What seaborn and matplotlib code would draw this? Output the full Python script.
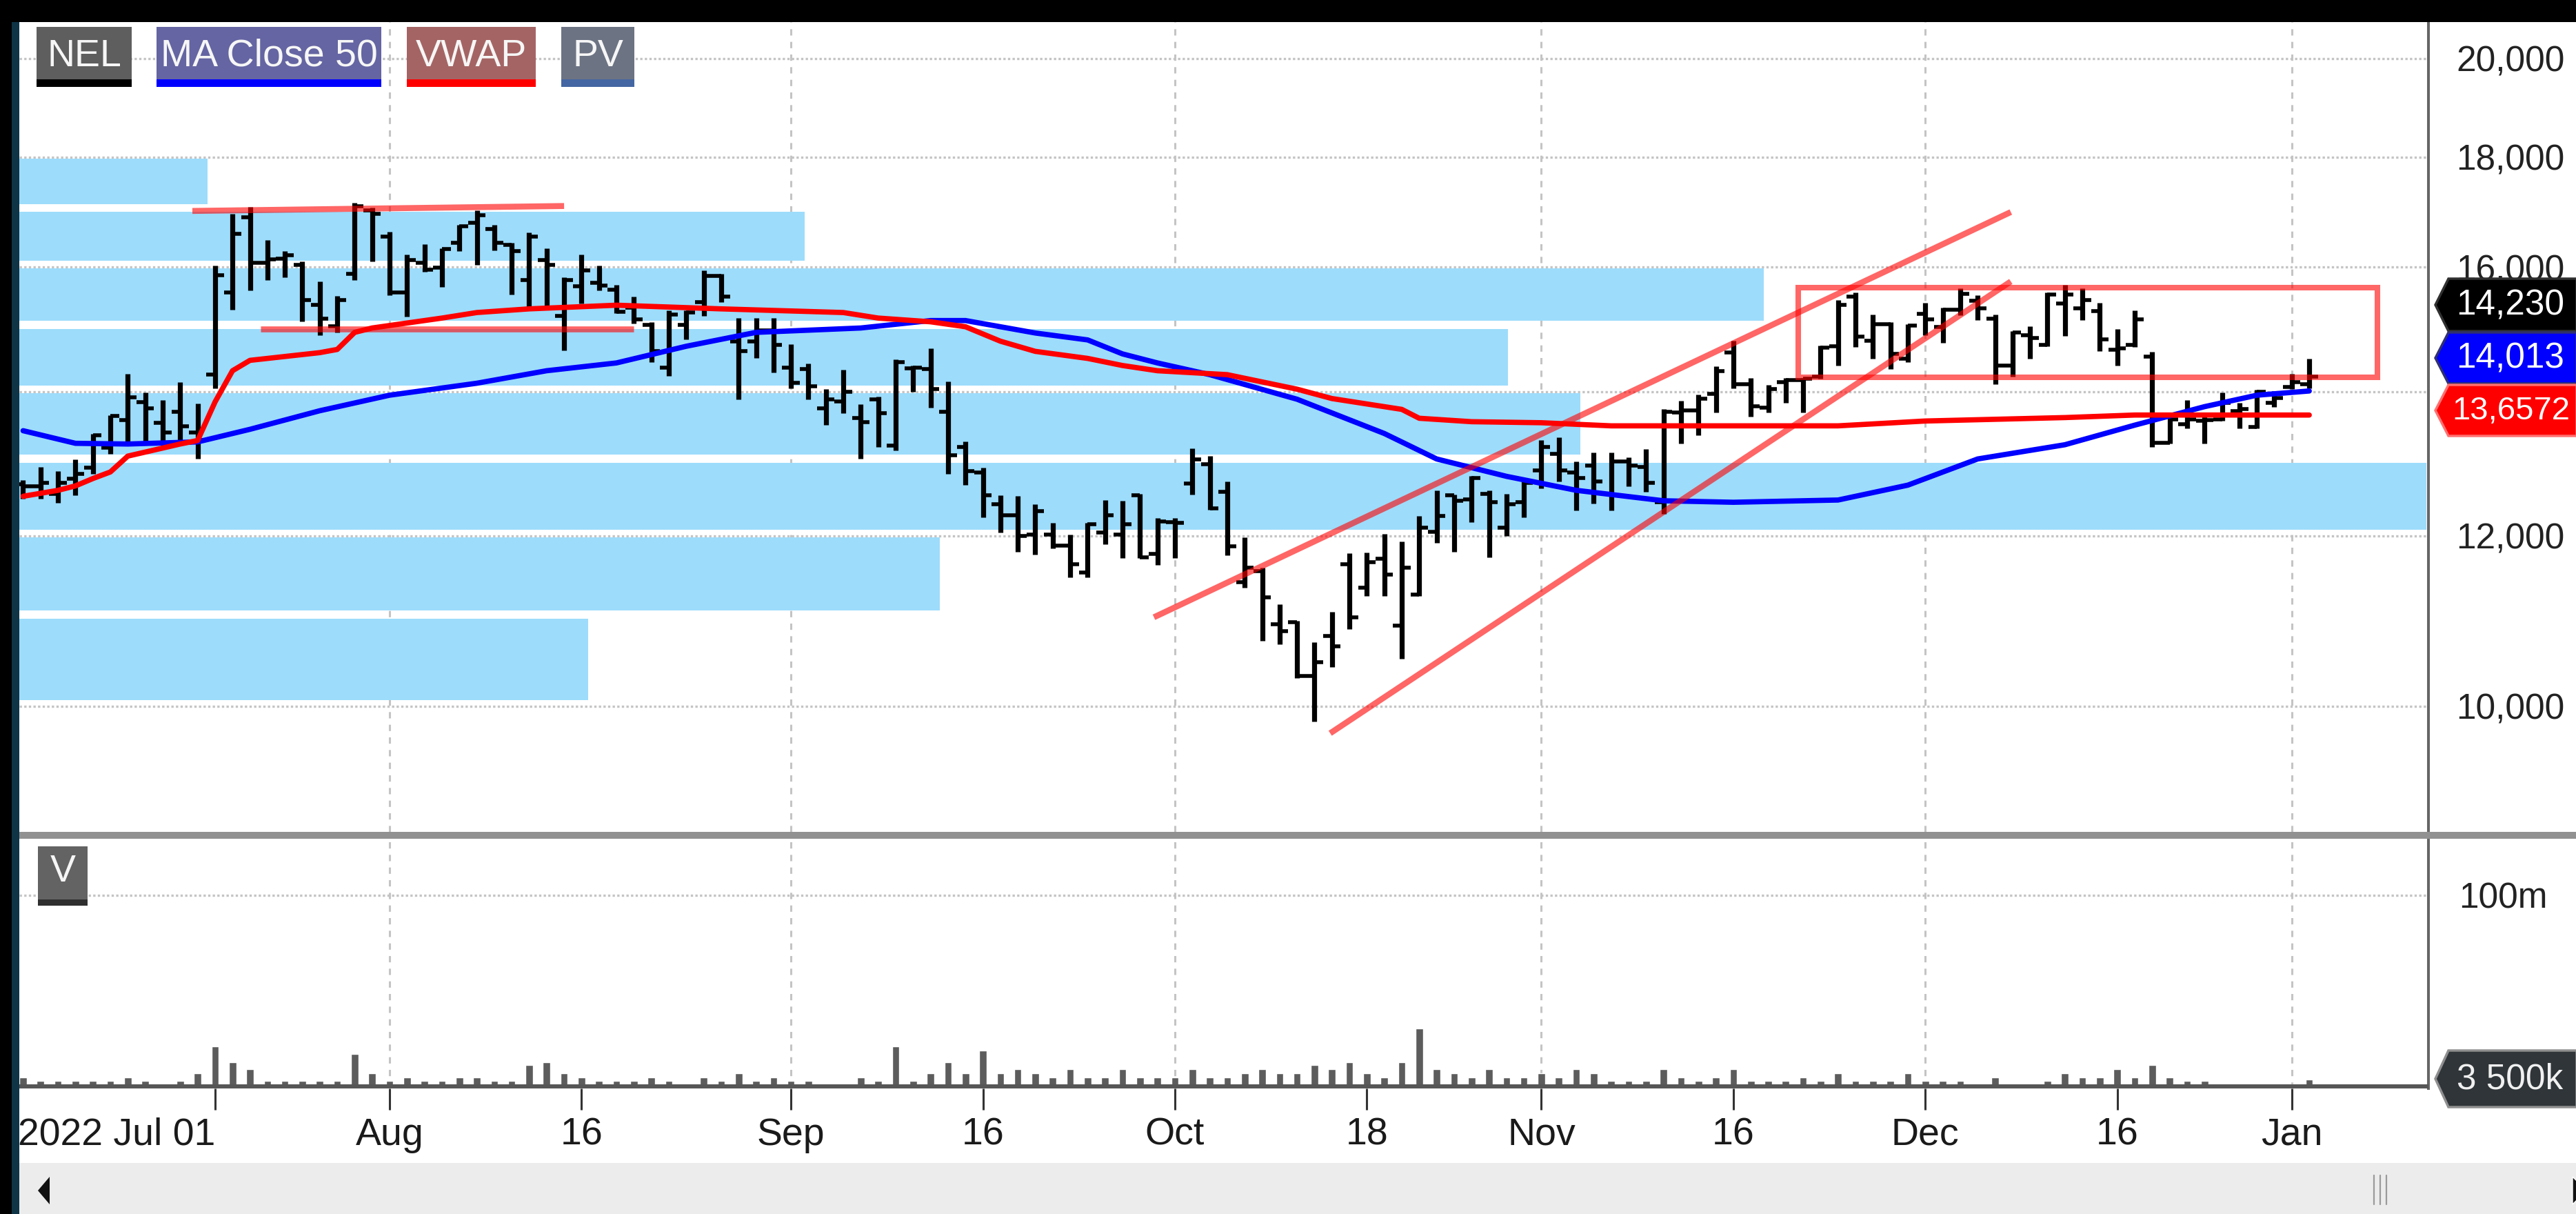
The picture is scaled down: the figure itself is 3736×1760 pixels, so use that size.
import numpy as np
import pandas as pd
import matplotlib
matplotlib.use("Agg")
import matplotlib.pyplot as plt
import seaborn as sns
from matplotlib.patches import Rectangle, Polygon
from matplotlib.ticker import FixedLocator, FuncFormatter, NullLocator

# ---------------------------------------------------------------- data
bar_idx = list(range(132))
open_ = [12680, 12650, 12550, 12760, 12910, 13190, 13580, 13850, 13540, 13700,
         13400, 14260, 15570, 16880, 16070, 16150, 16040, 15370, 15020, 15880,
         17000, 16530, 15570, 16070, 15990, 16420, 16770, 16660, 16390, 15780,
         16120, 15190, 15680, 15730, 15620, 15320, 15040, 14370, 15040, 15410,
         15850, 14780, 14780, 14950, 14370, 14350, 13760, 13860, 13610, 13890,
         13220, 14360, 14350, 13700, 13200, 12840, 12410, 12270, 12020, 12020,
         11880, 11540, 12040, 12020, 12530, 11770, 12180, 12690, 12960, 12580,
         11420, 11560, 10920, 10940, 10330, 10780, 11640, 11350, 11710, 10900,
         11270, 12050, 12530, 12480, 12550, 12110, 12440, 12870, 13100, 12840,
         12940, 12550, 13000, 12920, 12440, 13690, 13720, 13970, 14600, 14120,
         13770, 14150, 14180, 14230, 14700, 15500, 14790, 15050, 14510, 15220,
         15010, 15290, 15430, 15140, 14400, 14870, 14720, 15390, 15310, 15260,
         14650, 14720, 14540, 13260, 13520, 13570, 13590, 13710, 13480, 13840,
         14070, 14120]
high_ = [12740, 12920, 12860, 13020, 13380, 13650, 14270, 13990, 13880, 14150,
         13830, 16030, 16940, 17060, 16470, 16270, 16100, 15760, 15510, 17140,
         17050, 16610, 16220, 16400, 16330, 16740, 17000, 16740, 16420, 16600,
         16330, 15820, 16220, 16030, 15700, 15500, 15090, 15270, 15270, 15940,
         15890, 15150, 15150, 15150, 14730, 14430, 14040, 14340, 13820, 13930,
         14500, 14400, 14670, 14160, 13280, 12910, 12530, 12520, 12410, 12170,
         12020, 12170, 12470, 12460, 12550, 12230, 12230, 13180, 13070, 12720,
         11980, 11600, 11150, 10960, 10710, 11060, 11780, 11790, 12030, 11930,
         12260, 12600, 12540, 12800, 12600, 12550, 12720, 13300, 13340, 13000,
         13120, 13120, 13050, 13170, 13740, 13870, 13960, 14390, 14790, 14210,
         14100, 14210, 14210, 14710, 15450, 15570, 15210, 15090, 15050, 15400,
         15320, 15640, 15520, 15210, 14940, 15020, 15570, 15700, 15640, 15400,
         14970, 15280, 14610, 13610, 13880, 13670, 13990, 13840, 14030, 14010,
         14270, 14510]
low_ = [12490, 12490, 12430, 12530, 12820, 13100, 13270, 13270, 13270, 13270,
        13030, 14050, 15290, 15600, 15780, 15830, 15100, 14870, 14920, 15780,
        16100, 15520, 15170, 15920, 15660, 16280, 16040, 16290, 15540, 15320,
        15340, 14630, 15390, 15610, 15230, 15060, 14450, 14240, 14810, 15180,
        15410, 13890, 14520, 14290, 14050, 13890, 13510, 13680, 13030, 13200,
        13150, 14000, 13770, 12820, 12670, 12240, 12040, 11800, 11760, 11840,
        11480, 11480, 11890, 11720, 11720, 11630, 11720, 12540, 12340, 11750,
        11350, 10730, 10690, 10310, 9840, 10430, 10860, 11250, 11250, 10520,
        11250, 11910, 11800, 12180, 11730, 12000, 12240, 12630, 12720, 12330,
        12420, 12330, 12650, 12580, 12290, 13250, 13360, 13690, 14050, 13630,
        13690, 13840, 13690, 14200, 14400, 14690, 14510, 14350, 14450, 14870,
        14750, 15200, 15120, 14120, 14230, 14510, 14700, 14860, 15120, 14620,
        14400, 14690, 13200, 13250, 13460, 13250, 13570, 13460, 13460, 13780,
        14040, 14050]
close_ = [12650, 12700, 12700, 12820, 13360, 13640, 13920, 13760, 13400, 13490,
          13300, 15860, 16580, 16070, 16130, 16200, 15450, 15140, 15450, 17080,
          16940, 15570, 16120, 15960, 16310, 16720, 16910, 16420, 16270, 16530,
          16040, 15780, 15940, 15690, 15250, 15130, 14620, 15210, 15240, 15850,
          15500, 14620, 14950, 14720, 14140, 14080, 13890, 14000, 13550, 13680,
          14450, 14370, 14040, 13080, 12860, 12530, 12270, 12000, 12320, 11880,
          11640, 12150, 12270, 12150, 11730, 12190, 12170, 13020, 12360, 11870,
          11600, 11240, 10840, 10330, 10480, 10660, 11000, 11670, 11510, 11600,
          12110, 12260, 12460, 12770, 12440, 12410, 12700, 13200, 12870, 12770,
          12720, 13000, 12940, 12700, 13700, 13720, 13900, 14310, 14120, 13790,
          14040, 14180, 14200, 14680, 15370, 14850, 15050, 14580, 15030, 15130,
          15290, 15550, 15310, 14400, 14920, 14830, 15540, 15540, 15450, 14810,
          14670, 15130, 13260, 13590, 13590, 13580, 13840, 13740, 14000, 13910,
          14150, 14230]
volume_m = [4.6, 2.8, 2.8, 2.8, 2.8, 2.8, 4.6, 2.8, 1.1, 2.8,
            6.7, 20.8, 12.8, 8.9, 2.8, 2.8, 2.8, 2.8, 2.8, 16.9,
            6.7, 2.8, 4.6, 2.8, 2.8, 4.6, 4.6, 2.8, 2.8, 11.0,
            12.8, 6.7, 4.6, 2.8, 2.8, 2.8, 4.6, 2.8, 1.1, 4.6,
            2.8, 6.7, 2.8, 4.6, 2.8, 2.8, 1.1, 1.1, 4.6, 2.8,
            20.8, 2.8, 6.7, 12.8, 6.7, 18.7, 6.7, 8.9, 6.7, 4.6,
            8.9, 4.6, 4.6, 8.9, 4.6, 4.6, 4.6, 8.9, 4.6, 4.6,
            6.7, 8.9, 6.7, 6.7, 11.0, 8.9, 12.8, 6.7, 4.6, 12.8,
            30.3, 8.9, 6.7, 4.6, 8.9, 4.6, 4.6, 6.7, 4.6, 8.9,
            6.7, 2.8, 2.8, 2.8, 8.9, 4.6, 2.8, 4.6, 8.9, 2.8,
            2.8, 2.8, 4.6, 2.8, 6.7, 2.8, 2.8, 2.8, 6.7, 2.8,
            2.8, 2.8, 1.1, 4.6, 1.1, 1.1, 2.8, 6.7, 4.6, 4.6,
            8.9, 4.6, 11.0, 4.6, 2.8, 2.8, 1.1, 1.1, 1.1, 1.1,
            1.1, 3.5]
ma_idx = [0, 3, 6, 10, 13, 17, 21, 26, 30, 34, 38, 42, 48, 52, 54, 56, 58, 61,
          63, 65, 68, 73, 78, 81, 85, 89, 94, 98, 104, 108, 112, 117, 121, 125,
          128, 131]
ma_val = [13430, 13250, 13240, 13270, 13450, 13720, 13950, 14130, 14320, 14440,
          14700, 14920, 14990, 15110, 15110, 15010, 14910, 14800, 14580, 14440,
          14260, 13890, 13390, 13030, 12790, 12600, 12460, 12440, 12470, 12670,
          13030, 13230, 13510, 13780, 13950, 14013]
vwap_idx = [0, 2, 3, 4, 5, 6, 9, 10, 11, 12, 13, 17, 18, 19, 20, 22, 24, 26,
            29, 34, 40, 47, 49, 52, 54, 56, 58, 61, 63, 65, 69, 73, 75, 79, 80,
            83, 87, 91, 104, 109, 117, 121, 131]
vwap_val = [12520, 12600, 12660, 12760, 12850, 13070, 13240, 13290, 13850, 14320,
            14480, 14600, 14650, 14920, 14990, 15070, 15150, 15240, 15300, 15360,
            15300, 15240, 15150, 15090, 15010, 14780, 14620, 14510, 14400, 14320,
            14260, 14040, 13900, 13740, 13610, 13560, 13545, 13500, 13500, 13570,
            13620, 13657, 13657]
pv_low = [10000, 11000, 12000, 13000, 14000, 15000, 16000, 17000]
pv_high = [11000, 12000, 13000, 14000, 15000, 16000, 17000, 18000]
pv_share = [23.6, 38.2, 99.9, 64.8, 61.8, 72.4, 32.6, 7.8]
trend_x = [[9.7, 31.0], [13.6, 35.0], [64.8, 113.9], [74.9, 113.9]]
trend_y = [[16990, 17080], [14970, 14970], [11000, 16970], [9716, 15755]]
range_box_x = [101.7, 134.9]
range_box_y = [14220, 15650]
price_ticks = [10000, 12000, 14000, 16000, 18000, 20000]
hidden_tick = 14000          # covered by the last-value tags in the reference
month_idx = [21, 44, 66, 87, 109, 130]
tick_idx = [11, 21, 32, 44, 55, 66, 77, 87, 98, 109, 120, 130]
tick_labels = ['2022 Jul 01', 'Aug', '16', 'Sep', '16', 'Oct', '18', 'Nov',
               '16', 'Dec', '16', 'Jan']
last_close, last_ma, last_vwap, last_vol = '14,230', '14,013', '13,6572', '3 500k'

# ---------------------------------------------------------------- style
sns.set_theme(style='white')
plt.rcParams['font.family'] = ['Liberation Sans', 'DejaVu Sans']
FS = 40
TFS = 37
W, H = 3737, 1760
fig = plt.figure(figsize=(W / 100, H / 100), dpi=100, facecolor='white')

def px2fig(x0, y0, x1, y1):
    return [x0 / W, 1 - y1 / H, (x1 - x0) / W, (y1 - y0) / H]

XL = ((28 - 33.5) / 25.31, (3522 - 33.5) / 25.31)
YL = (8743, 20795)
GRID = '#c4c4c4'

# base layer: grid + right price scale
axb = fig.add_axes(px2fig(28, 32, 3522, 1206))
axb.set_facecolor('white')
axb.set_xlim(*XL)
axb.set_yscale('log')
for v in price_ticks:
    axb.axhline(v, color=GRID, lw=2.4, ls=(0, (1, 1)), zorder=0)
for m in month_idx:
    axb.axvline(m, color=GRID, lw=2.2, ls=(0, (3, 3)), zorder=0)
for s in ['top', 'left', 'bottom']:
    axb.spines[s].set_visible(False)
axb.spines['right'].set_color('#666666')
axb.spines['right'].set_linewidth(2.9)

# volume-profile layer (shares the price scale)
axp = axb.twiny()
axp.set_zorder(axb.get_zorder() + 1)
axp.patch.set_visible(False)
bottoms = [lo * 1.007 for lo in pv_low]
heights = [hi * 0.9985 - lo * 1.007 for lo, hi in zip(pv_low, pv_high)]
axp.barh(bottoms, pv_share, height=heights, left=0, align='edge',
         color='#9ddcfb', linewidth=0)
axp.set_xlim(0, 100)
axp.set_xticks([])
for s in axp.spines.values():
    s.set_visible(False)

# price scale formatting (after twin creation)
axb.set_ylim(*YL)
axb.set_xticks([])
axb.yaxis.set_major_locator(FixedLocator(price_ticks))
axb.yaxis.set_minor_locator(NullLocator())
axb.yaxis.set_major_formatter(FuncFormatter(
    lambda v, p: '' if abs(v - hidden_tick) < 1 else f'{v:,.0f}'))
axb.yaxis.tick_right()
axb.tick_params(axis='y', which='both', left=False, labelleft=False, length=0,
                pad=29, labelsize=TFS, labelcolor='#222222')
axp.tick_params(axis='y', which='both', left=False, labelleft=False)

# price layer
ax = fig.add_axes(px2fig(28, 32, 3522, 1206))
ax.set_zorder(axp.get_zorder() + 1)
ax.patch.set_visible(False)
ax.set_yscale('log')
ax.vlines(bar_idx, low_, high_, color='black', lw=5.2, zorder=3)
ax.hlines(open_, np.array(bar_idx) - 0.5, np.array(bar_idx), color='black', lw=4.0, zorder=3)
ax.hlines(close_, np.array(bar_idx), np.array(bar_idx) + 0.5, color='black', lw=4.0, zorder=3)
sns.lineplot(x=ma_idx, y=ma_val, ax=ax, color='#0000ff', linewidth=5.5, zorder=4)
sns.lineplot(x=vwap_idx, y=vwap_val, ax=ax, color='#ff0000', linewidth=5.5, zorder=4)
for tx, ty in zip(trend_x, trend_y):
    ax.plot(tx, ty, color='#ff0000', alpha=0.6, lw=6.2, solid_capstyle='butt', zorder=5)
ax.add_patch(Rectangle((range_box_x[0], range_box_y[0]), range_box_x[1] - range_box_x[0],
                       range_box_y[1] - range_box_y[0], fill=False, ec='#ff0000',
                       alpha=0.6, lw=5.8, zorder=5))
ax.set_xlim(*XL)
ax.set_ylim(*YL)
ax.set_xlabel('')
ax.set_ylabel('')
ax.set_xticks([])
ax.yaxis.set_major_locator(NullLocator())
ax.yaxis.set_minor_locator(NullLocator())
ax.tick_params(left=False, right=False, labelleft=False, labelright=False)
for s in ax.spines.values():
    s.set_visible(False)

# volume panel
axv = fig.add_axes(px2fig(28, 1216, 3522, 1578))
axv.set_facecolor('white')
for m in month_idx:
    axv.axvline(m, color=GRID, lw=2.2, ls=(0, (3, 3)), zorder=0)
axv.axhline(100, color=GRID, lw=2.4, ls=(0, (1, 1)), zorder=0)
vol_df = pd.DataFrame({'idx': bar_idx, 'vol': volume_m})
sns.barplot(data=vol_df, x='idx', y='vol', native_scale=True, ax=axv, color='#5c5c5c',
            saturation=1, width=0.42, errorbar=None, zorder=2)
axv.axhline(0, color='#565656', lw=4.3, zorder=3)
axv.set_xlim(*XL)
axv.set_ylim(-1.1, 129.6)
axv.set_xlabel('')
axv.set_ylabel('')
axv.yaxis.set_major_locator(FixedLocator([100]))
axv.yaxis.set_major_formatter(FuncFormatter(lambda v, p: f'{v:.0f}m'))
axv.yaxis.tick_right()
axv.tick_params(axis='y', length=0, pad=32, labelsize=TFS, labelcolor='#222222')
axv.xaxis.set_major_locator(FixedLocator(tick_idx))
axv.set_xticklabels(tick_labels)
axv.tick_params(axis='x', bottom=True, length=22, width=2.2, color='#333333',
                pad=8, labelsize=FS, labelcolor='#1a1a1a', direction='out')
axv.get_xticklabels()[0].set_horizontalalignment('right')
for s in ['top', 'left', 'bottom']:
    axv.spines[s].set_visible(False)
axv.spines['right'].set_color('#666666')
axv.spines['right'].set_linewidth(2.9)

# ---------------------------------------------------------------- chrome overlay
ov = fig.add_axes([0, 0, 1, 1])
ov.set_zorder(20)
ov.patch.set_visible(False)
ov.set_xlim(0, W)
ov.set_ylim(H, 0)
ov.axis('off')

def rect(x0, y0, x1, y1, c, **kw):
    ov.add_patch(Rectangle((x0, y0), x1 - x0, y1 - y0, fc=c, ec='none', **kw))

rect(0, 0, W, 32, 'black')
rect(0, 0, 17, H, 'black')
rect(17, 32, 28, H, '#0e3446')
rect(28, 1206, W, 1216, '#919191')
rect(28, 1686, W, H, '#ececec')
ov.add_patch(Polygon([(55, 1726), (72, 1706), (72, 1746)], closed=True, fc='#111111', ec='none'))
for xx in (3443, 3452, 3461):
    ov.plot([xx, xx], [1704, 1746], color='#9a9a9a', lw=1.6)
ov.add_patch(Polygon([(3731, 1706), (3737, 1712), (3737, 1740), (3731, 1746)], closed=True, fc='#111111'))

# legend tags
for (x0, x1, bg, ul, txt) in [(53, 191, '#5e5e5e', '#000000', 'NEL'),
                              (227, 553, '#6565a3', '#0000ff', 'MA Close 50'),
                              (590, 777, '#a56464', '#ff0000', 'VWAP'),
                              (814, 920, '#6c7383', '#4466a2', 'PV')]:
    rect(x0, 39, x1, 115, bg)
    rect(x0, 115, x1, 126, ul)
    ov.text((x0 + x1) / 2, 82, txt, color='#f6f6f6', fontsize=FS, ha='center', va='center')
rect(55, 1227, 127, 1304, '#636363')
rect(55, 1304, 127, 1313, '#2f2f2f')
ov.text(91, 1264, 'V', color='#f6f6f6', fontsize=FS, ha='center', va='center')

# last-value tags on the price scale
def tag(y0, y1, fc, ec):
    yc = (y0 + y1) / 2
    ov.add_patch(Polygon([(3532, yc), (3551, y0), (W, y0), (W, y1), (3551, y1)],
                         closed=True, fc=fc, ec=ec, lw=2.5))

tag(404, 480, '#000000', '#303030')
ov.text(3562, 443, last_close, color='white', fontsize=TFS, ha='left', va='center')
tag(482, 556, '#0000ff', '#303070')
ov.text(3562, 520, last_ma, color='white', fontsize=TFS, ha='left', va='center')
tag(558, 632, '#ff0000', '#ff7070')
ov.text(3556, 596, last_vwap, color='white', fontsize=34, ha='left', va='center')
tag(1523, 1605, '#2f3538', '#8f8f8f')
ov.text(3563, 1565, last_vol, color='#f0f0f0', fontsize=TFS, ha='left', va='center')

fig.savefig('out.png', dpi=100, facecolor='white')
